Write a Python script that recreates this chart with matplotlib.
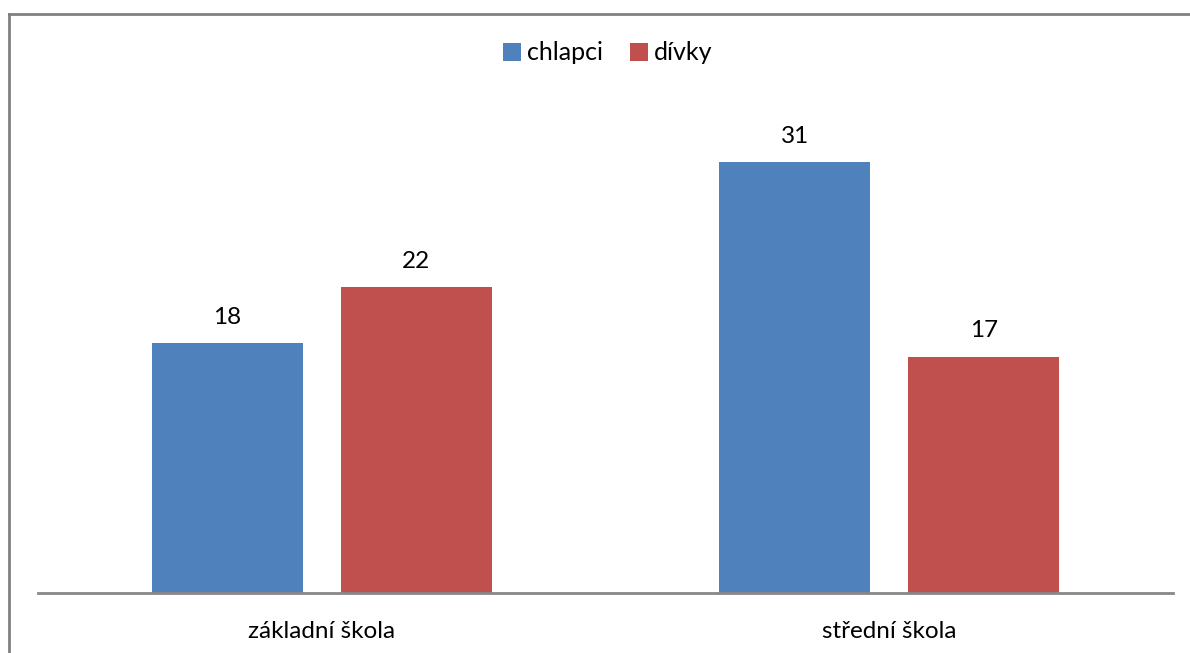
import numpy as np
import matplotlib.pyplot as plt
from matplotlib.lines import Line2D

plt.rcParams['font.family'] = ['Lato', 'DejaVu Sans']

categories = ['základní škola', 'střední škola']
series = ['chlapci', 'dívky']
chlapci = [18, 31]
divky = [22, 17]
colors = ['#4F81BD', '#C0504D']

W, H = 1190, 653
fig = plt.figure(figsize=(W / 100, H / 100), dpi=100)

# plot area in pixels
left, right, base, top = 38, 1173, 593, 106.5
ax = fig.add_axes([left / W, (H - base) / H, (right - left) / W, (base - top) / H])

x = np.arange(len(categories))
width = 0.266
off = 0.1667
b1 = ax.bar(x - off, chlapci, width, color=colors[0], label=series[0])
b2 = ax.bar(x + off, divky, width, color=colors[1], label=series[1])

for bars in (b1, b2):
    for r in bars:
        ax.text(r.get_x() + r.get_width() / 2, r.get_height() + 1.1, f'{r.get_height():g}',
                ha='center', va='bottom', fontsize=17.5, color='#000000')

ax.set_xlim(-0.5, 1.5)
ax.set_ylim(0, 35)
ax.set_yticks([])
ax.set_xticks(x)
ax.set_xticklabels(categories, fontsize=17.5)
ax.tick_params(axis='x', length=0, pad=20)
for s in ['top', 'right', 'left']:
    ax.spines[s].set_visible(False)
ax.spines['bottom'].set_color('#888888')
ax.spines['bottom'].set_linewidth(2)

fig.legend(loc='center', bbox_to_anchor=(608 / W, 1 - 53 / H), ncol=2, frameon=False,
           fontsize=18, handlelength=0.7, handleheight=0.7, handletextpad=0.25,
           columnspacing=1.1)

# outer chart border (only left and top visible)
fig.add_artist(Line2D([8.5 / W, 8.5 / W], [0, 1 - 13.5 / H], color='#808080', lw=2,
                      transform=fig.transFigure))
fig.add_artist(Line2D([8.5 / W, 1], [1 - 13.5 / H, 1 - 13.5 / H], color='#808080', lw=2,
                      transform=fig.transFigure))

fig.savefig('out.png', dpi=100)
